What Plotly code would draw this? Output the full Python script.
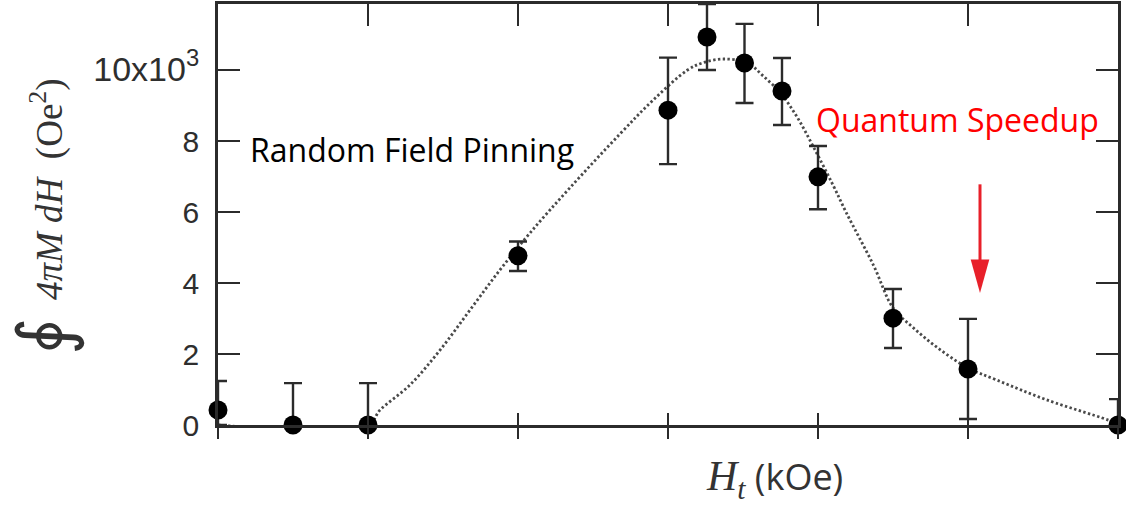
import plotly.graph_objects as go

# measured data points
H = [0.0, 0.5, 1.0, 2.0, 3.0, 3.26, 3.51, 3.76, 4.0, 4.5, 5.0, 6.0]
M = [0.42, 0.0, 0.0, 4.77, 8.87, 10.93, 10.20, 9.41, 6.99, 3.01, 1.58, 0.0]
err_plus = [0.82, 1.18, 1.18, 0.40, 1.48, 0.93, 1.10, 0.93, 0.87, 0.82, 1.41, 0.73]
err_minus = [0.42, 0.0, 0.0, 0.43, 1.52, 0.93, 1.13, 0.96, 0.91, 0.84, 1.41, 0.0]

# dotted guide curve
fit_H = [0, 1.0, 1.08, 1.28, 1.48, 1.68, 1.88, 2.08, 2.35, 2.68, 2.90, 3.13, 3.23, 3.37,
         3.53, 3.63, 3.75, 3.86, 3.97, 4.10, 4.19, 4.37, 4.50, 4.63, 4.79, 4.99, 5.19,
         5.53, 5.97, 6.0]
fit_M = [0, 0, 0.42, 1.13, 2.11, 3.24, 4.37, 5.41, 6.70, 8.20, 9.15, 10.0, 10.20, 10.31,
         10.20, 9.85, 9.35, 8.68, 7.83, 6.76, 5.97, 4.5, 3.3, 2.76, 2.2, 1.63, 1.27,
         0.7, 0.08, 0]

x_ticks = [0, 1, 2, 3, 4, 5, 6]
y_ticks = [0, 2, 4, 6, 8, 10]
y_ticktext = ["0", "2", "4", "6", "8", "10x10<sup>3</sup>"]

X_RANGE = [0, 6]
Y_RANGE = [0, 11.86]
AXC = "#2b2b2b"

fig = go.Figure()

fig.add_trace(go.Scatter(
    x=fit_H, y=fit_M, mode="lines",
    line=dict(color="#4a4a4a", width=2.8, dash="2.4px,2.4px", shape="spline", smoothing=1.0),
    hoverinfo="skip", showlegend=False))

fig.add_trace(go.Scatter(
    x=H, y=M, mode="markers",
    marker=dict(color="black", size=19),
    error_y=dict(type="data", symmetric=False, array=err_plus, arrayminus=err_minus,
                 color=AXC, thickness=2.4, width=9),
    cliponaxis=False, showlegend=False))

# invisible helpers for the extra tick axes
fig.add_trace(go.Scatter(x=X_RANGE, y=[None, None], xaxis="x2", showlegend=False, hoverinfo="skip"))
fig.add_trace(go.Scatter(x=X_RANGE, y=[None, None], xaxis="x3", showlegend=False, hoverinfo="skip"))

common_x = dict(range=X_RANGE, tickvals=x_ticks, showticklabels=False, showgrid=False,
                zeroline=False, tickcolor=AXC, tickwidth=2.4, fixedrange=True)

tt = [t if i < len(y_ticktext) - 1 else '<span style="font-size:34px">' + t + '</span>'
      for i, t in enumerate(y_ticktext)]

fig.update_layout(
    width=1126, height=508,
    margin=dict(l=218, r=8, t=4, b=83),
    paper_bgcolor="white", plot_bgcolor="white",
    xaxis=dict(**common_x, ticks="inside", ticklen=12, showline=True,
               linecolor=AXC, linewidth=2.6),
    xaxis2=dict(**common_x, overlaying="x", side="bottom", ticks="outside", ticklen=13,
                showline=False),
    xaxis3=dict(**common_x, overlaying="x", side="top", ticks="inside", ticklen=22,
                showline=True, linecolor=AXC, linewidth=2.6),
    yaxis=dict(range=Y_RANGE, tickvals=y_ticks, ticktext=tt, ticks="inside",
               ticklen=22, tickwidth=2.4, tickcolor=AXC, showline=True, linecolor=AXC,
               linewidth=2.6, mirror="ticks", showgrid=False, zeroline=False,
               ticklabelstandoff=10,
               tickfont=dict(family="Liberation Sans", size=30, color="#2e2e2e")),
)

annotations = [
    dict(x=1.29, y=7.75, xref="x", yref="y", text="Random Field Pinning", showarrow=False,
         font=dict(family="Open Sans", size=32, color="black")),
    dict(x=4.93, y=8.6, xref="x", yref="y", text="Quantum Speedup", showarrow=False,
         font=dict(family="Open Sans", size=32, color="#ff0000")),
    dict(x=0.618, y=-0.126, xref="paper", yref="paper", xanchor="center", yanchor="middle",
         text='<i>H<sub>t</sub></i><span style="font-family:Open Sans;font-size:36px;font-style:normal"> (kOe)</span>',
         showarrow=False, font=dict(family="Liberation Serif", size=42, color="#333333")),
    # y-axis title
    dict(x=-0.193, y=(425 - 336) / 421, xref="paper", yref="paper", textangle=-90,
         xanchor="center", yanchor="middle", text="∮", showarrow=False,
         font=dict(family="DejaVu Serif", size=72, color="#333333")),
    dict(x=-0.19, y=(425 - 189) / 421, xref="paper", yref="paper", textangle=-90,
         xanchor="center", yanchor="middle",
         text='<i>4πM</i> <i>dH</i>  (Oe<sup>2</sup>)', showarrow=False,
         font=dict(family="Liberation Serif", size=37, color="#333333")),
]
fig.update_layout(annotations=annotations)

# red arrow
arrow_x = 5.08
fig.add_shape(type="line", xref="x", yref="y", x0=arrow_x, x1=arrow_x, y0=6.78, y1=4.5,
              line=dict(color="#e8202a", width=3))
fig.add_shape(type="path", xref="x", yref="y",
              path=f"M {arrow_x-0.062} 4.66 L {arrow_x+0.062} 4.66 L {arrow_x} 3.72 Z",
              fillcolor="#e8202a", line=dict(width=0))

fig.write_html("out.html")
